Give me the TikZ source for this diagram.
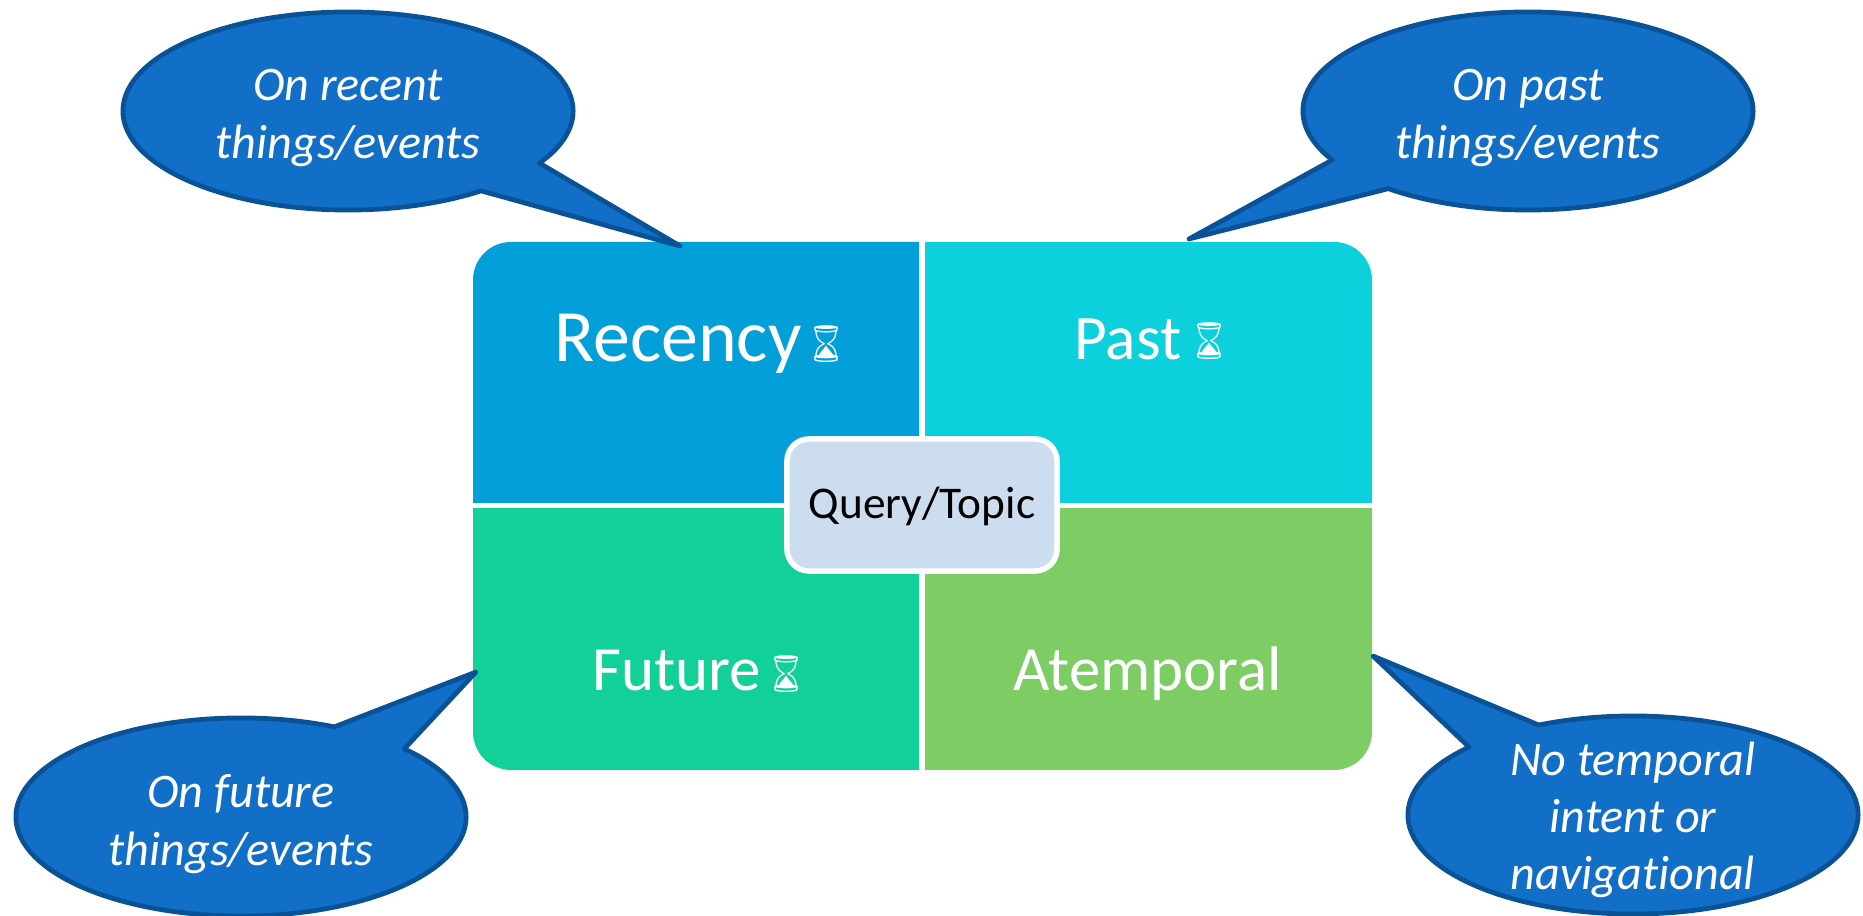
\documentclass[tikz,border=0pt]{standalone}
\usepackage{fontspec}
\setmainfont[Ligatures=NoCommon]{Carlito}
\newfontfamily\emojifont{Noto Emoji}
\usetikzlibrary{shapes.callouts}
\definecolor{recencyfill}{HTML}{039FD9}
\definecolor{pastfill}{HTML}{0CD1DC}
\definecolor{futurefill}{HTML}{12D097}
\definecolor{atemporalfill}{HTML}{7DCC64}
\definecolor{queryfill}{HTML}{CCDDEF}
\definecolor{bubblefill}{HTML}{116FC7}
\definecolor{bubbleline}{HTML}{0A5296}
\tikzset{
    bubble/.style={ellipse callout, fill=bubblefill, draw=bubbleline, line width=1.35pt, line join=round, inner sep=0pt, minimum width=4.5cm, minimum height=1.98cm, callout pointer arc=22},
    bubbletext/.style={text=white, align=center, font=\fontsize{13.7}{16.3}\selectfont\itshape},
    paneltext/.style={text=white, anchor=base, font=\fontsize{17.9}{21}\selectfont},
    hourglass/.style={text=white, font=\fontsize{10.3}{11}\selectfont\emojifont},
    querybox/.style={rounded corners=0.22cm, fill=queryfill, draw=white, line width=1.56pt, minimum width=2.7cm, minimum height=1.32cm, inner sep=0pt}
}

\begin{document}
\begin{tikzpicture}[x=0.01cm,y=-0.01cm]
        \useasboundingbox (0,0) rectangle (1863,916);

        \fill[recencyfill] (919,503) -- (473,503) [rounded corners=0.38cm] -- (473,242) [sharp corners] -- (919,242) -- cycle;
        \fill[pastfill] (925,503) -- (925,242) [rounded corners=0.38cm] -- (1372,242) [sharp corners] -- (1372,503) -- cycle;
        \fill[futurefill] (919,508) -- (919,770) [rounded corners=0.38cm] -- (473,770) [sharp corners] -- (473,508) -- cycle;
        \fill[atemporalfill] (925,508) -- (1372,508) [rounded corners=0.38cm] -- (1372,770) [sharp corners] -- (925,770) -- cycle;

        \node[paneltext, font=\fontsize{21}{25}\selectfont] (recency) at (678,362) {Recency};
        \node[paneltext, font=\fontsize{18}{21}\selectfont] (past) at (1128,360) {Past};
        \node[paneltext] (future) at (677,691) {Future};
        \node[paneltext] (atemporal) at (1148,691) {Atemporal};
        \node[hourglass] (recencyglass) at (826,344) {⌛};
        \node[hourglass] (pastglass) at (1209,341) {⌛};
        \node[hourglass] (futureglass) at (786,674) {⌛};

        \node[querybox] (query) at (922,505) {};
        \node[anchor=base, font=\fontsize{12.9}{15}\selectfont] (querytext) at (922,519) {Query/Topic};

        \coordinate (recenttip) at (680,246);
        \coordinate (pasttip) at (1189,239);
        \coordinate (futuretip) at (476,672);
        \coordinate (notemporaltip) at (1373,656);

        \node[bubble, callout absolute pointer={(recenttip)}] (recentbubble) at (348,111) {};
        \node[bubble, callout absolute pointer={(pasttip)}] (pastbubble) at (1528,111) {};
        \node[bubble, callout absolute pointer={(futuretip)}] (futurebubble) at (241,817) {};
        \node[bubble, callout absolute pointer={(notemporaltip)}] (notemporalbubble) at (1633,815) {};

        \node[bubbletext] (recenttext) at (348,118) {On recent\\things/events};
        \node[bubbletext] (pasttext) at (1528,118) {On past\\things/events};
        \node[bubbletext] (futuretext) at (241,824) {On future\\things/events};
        \node[bubbletext] (notemporaltext) at (1633,820) {No temporal\\intent or\\navigational};
    \end{tikzpicture}
\end{document}
